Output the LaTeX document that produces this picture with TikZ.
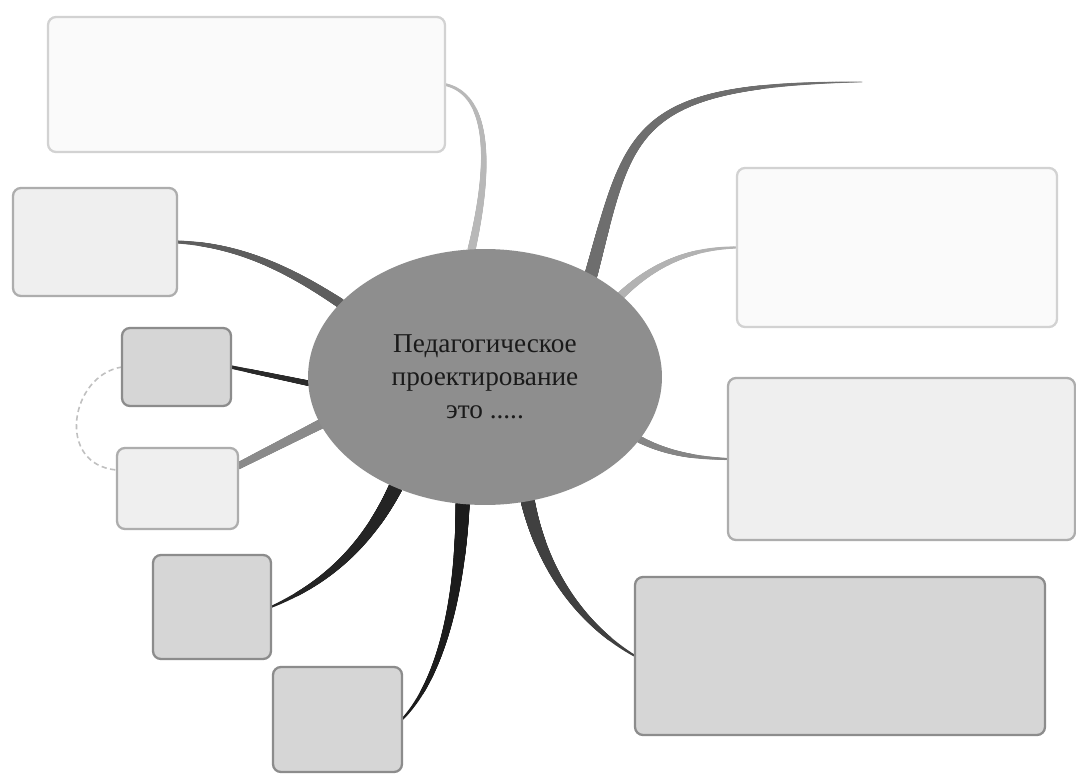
\documentclass[tikz,border=0pt]{standalone}
\usepackage{fontspec}
\setmainfont{Liberation Serif}
\usetikzlibrary{decorations.markings,calc,shapes.geometric}
\pgfdeclarelayer{bg}
\pgfdeclarelayer{paper}
\pgfsetlayers{paper,bg,main}
\definecolor{cA}{HTML}{B8B8B8}
\definecolor{cB}{HTML}{6E6E6E}
\definecolor{cC}{HTML}{B2B2B2}
\definecolor{cD}{HTML}{858585}
\definecolor{cE}{HTML}{404040}
\definecolor{cF}{HTML}{1C1C1C}
\definecolor{cG}{HTML}{242424}
\definecolor{cH}{HTML}{8A8A8A}
\definecolor{cI}{HTML}{2A2A2A}
\definecolor{cJ}{HTML}{5E5E5E}
\definecolor{ellfill}{HTML}{8E8E8E}
\definecolor{txtc}{HTML}{1A1A1A}
\definecolor{fillW}{HTML}{FAFAFA}
\definecolor{drawW}{HTML}{D2D2D2}
\definecolor{fillL}{HTML}{EFEFEF}
\definecolor{drawL}{HTML}{ADADAD}
\definecolor{fillD}{HTML}{D6D6D6}
\definecolor{drawD}{HTML}{8C8C8C}
\definecolor{dashc}{HTML}{C0C0C0}
\begin{document}
\begin{tikzpicture}[x=0.02cm,y=-0.02cm,
  box/.style={rectangle, rounded corners=4.5pt, line width=1.3pt, inner sep=0pt, outer sep=0pt},
  whitebox/.style={box, fill=fillW, draw=drawW},
  lightbox/.style={box, fill=fillL, draw=drawL},
  darkbox/.style={box, fill=fillD, draw=drawD},
  centre/.style={ellipse, fill=ellfill, draw=none, inner sep=0pt, outer sep=0pt,
    minimum width=7.08cm, minimum height=5.12cm, align=center, text=txtc,
    font=\fontsize{15.5}{18.8}\selectfont},
  taper/.style n args={3}{postaction={decorate, decoration={markings,
      mark=between positions 0 and 1 step 0.3pt with {%
        \pgfmathsetmacro\rr{#2+(#3-#2)*\pgfkeysvalueof{/pgf/decoration/mark info/distance from start}/\pgfdecoratedpathlength}%
        \fill[#1] (0,0) circle[radius=\rr pt];}}}},
  dashlink/.style={draw=dashc, line width=0.9pt, dash pattern=on 3pt off 2pt}
]
\useasboundingbox (0,0) rectangle (1076,774);
\begin{pgfonlayer}{paper}
\fill[white] (0,0) rectangle (1076,774);
\end{pgfonlayer}

% central node
\node[centre] (c) at (485,377) {Педагогическое\\проектирование\\это .....};

% boxes
\node[whitebox, minimum width=7.94cm, minimum height=2.70cm] (b1) at (246.5,84.5) {};
\node[lightbox, minimum width=3.28cm, minimum height=2.16cm] (b2) at (95,242) {};
\node[darkbox,  minimum width=2.18cm, minimum height=1.56cm] (b3) at (176.5,367) {};
\node[lightbox, minimum width=2.42cm, minimum height=1.62cm] (b4) at (177.5,488.5) {};
\node[darkbox,  minimum width=2.36cm, minimum height=2.08cm] (b5) at (212,607) {};
\node[darkbox,  minimum width=2.58cm, minimum height=2.10cm] (b6) at (337.5,719.5) {};
\node[whitebox, minimum width=6.40cm, minimum height=3.18cm] (b7) at (897,247.5) {};
\node[lightbox, minimum width=6.94cm, minimum height=3.24cm] (b8) at (901.5,459) {};
\node[darkbox,  minimum width=8.20cm, minimum height=3.16cm] (b9) at (840,656) {};

\coordinate (tip) at (862,82);

\begin{pgfonlayer}{bg}
\path[taper={cA}{2.3}{0.8}] (c.96) .. controls (490,170) and (492,95) .. (b1.east);
\path[taper={cB}{3.7}{0.15}] (c.44) .. controls (630,130) and (630,84) .. (tip);
\path[taper={cC}{2.3}{0.6}] (c.31) .. controls (660,258) and (700,248) .. (b7.west);
\path[taper={cD}{2.0}{0.6}] (c.-22) .. controls (670,455) and (700,458) .. (b8.west);
\path[taper={cE}{4.0}{0.6}] (c.-71) .. controls (545,580) and (590,630) .. (b9.west);
\path[taper={cF}{4.0}{0.6}] (c.-100) .. controls (460,600) and (440,680) .. (b6.east);
\path[taper={cG}{4.0}{0.6}] (c.231) .. controls (360,560) and (310,590) .. (b5.east);
\path[taper={cH}{2.8}{2.0}] (c.196) -- ([yshift=0.45cm]b4.east);
\path[taper={cI}{1.6}{1.0}] (c.182) -- (b3.east);
\path[taper={cJ}{2.8}{0.9}] (c.153) .. controls (290,270) and (240,245) .. (b2.east);
\draw[dashlink] (b3.west) .. controls (70,375) and (55,465) .. ([yshift=0.37cm]b4.west);
\end{pgfonlayer}
\end{tikzpicture}
\end{document}
